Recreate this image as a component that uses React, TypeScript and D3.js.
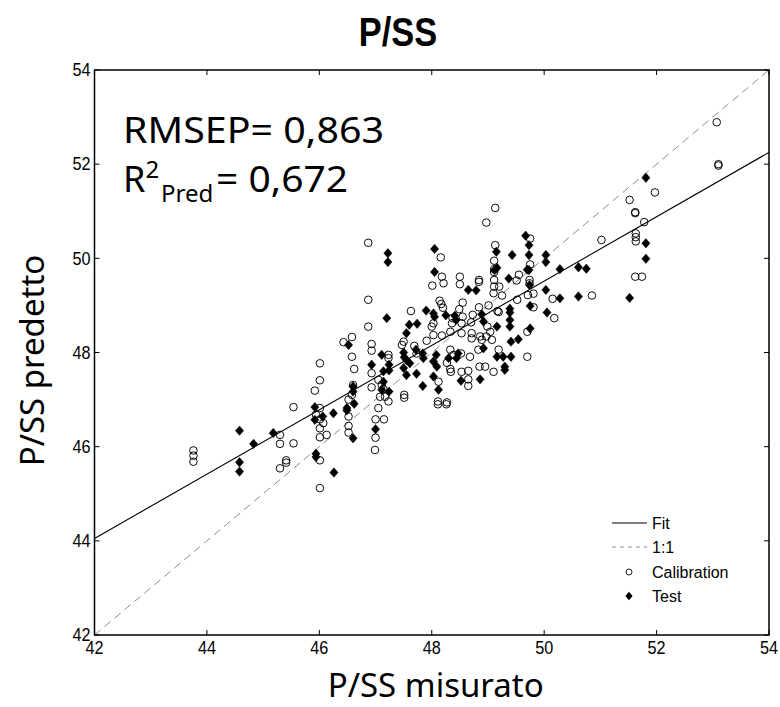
import React from "react";
import * as d3 from "d3";

const W = 780;
const H = 707;

const xDomain: [number, number] = [42, 54];
const yDomain: [number, number] = [42, 54];
const xTicks = [42, 44, 46, 48, 50, 52, 54];
const yTicks = [42, 44, 46, 48, 50, 52, 54];

const title = "P/SS";
const xLabel = "P/SS misurato";
const yLabel = "P/SS predetto";
const rmsepText = "RMSEP= 0,863";
const r2Value = "= 0,672";

const legendItems = ["Fit", "1:1", "Calibration", "Test"];

// Fit line (measured -> predicted)
const fitX = [42, 54];
const fitY = [44.05, 52.25];
const identity = [42, 54];

const calibration: [number, number][] = [
  [53.07, 52.89], [53.1, 52.0], [53.1, 51.97], [51.97, 51.4], [51.52, 51.24],
  [51.62, 50.98], [51.62, 50.96], [51.78, 50.77], [51.02, 50.39], [51.63, 50.53],
  [51.63, 50.45], [51.63, 50.36], [51.62, 49.61], [51.74, 49.61],
  [49.13, 51.07], [48.97, 50.76], [49.75, 50.42], [49.13, 50.28], [48.16, 50.02],
  [49.11, 49.95], [49.75, 49.87], [49.11, 49.77], [49.11, 49.71], [48.18, 49.61],
  [48.21, 49.47], [48.01, 49.42], [48.5, 49.61], [48.5, 49.45], [48.84, 49.54],
  [48.84, 49.5], [49.11, 49.54], [49.11, 49.4], [49.55, 49.65], [49.51, 49.53],
  [49.74, 49.54], [49.74, 49.47], [49.2, 49.4], [49.1, 49.26], [49.71, 49.22],
  [49.81, 49.25], [49.25, 49.21], [49.52, 49.12], [50.15, 49.14], [50.85, 49.21],
  [50.18, 48.73], [49.81, 48.96], [49.7, 48.44], [49.7, 47.91],
  [48.14, 49.1], [48.17, 49.03], [48.2, 48.95], [48.55, 49.06], [48.49, 48.92],
  [48.84, 48.96], [49.01, 49.0], [49.17, 48.88], [49.19, 48.86], [48.73, 48.8],
  [48.7, 48.64], [48.53, 48.62], [48.55, 48.76], [48.37, 48.73], [48.36, 48.62],
  [48.03, 48.62], [48.0, 48.55], [48.99, 48.55], [49.04, 48.44], [48.86, 48.34],
  [48.89, 48.27], [48.97, 48.34], [49.07, 48.27], [48.03, 48.37], [48.18, 48.36],
  [48.33, 48.44], [48.53, 48.41], [48.71, 48.41], [48.71, 48.3], [49.19, 48.06],
  [48.33, 48.06], [48.39, 47.95], [48.52, 47.98], [48.68, 47.91], [48.83, 48.06],
  [48.33, 47.65], [48.34, 47.59], [48.53, 47.59], [48.65, 47.61], [48.85, 47.7],
  [48.95, 47.7], [49.1, 47.59], [48.27, 47.78],
  [43.76, 45.92], [43.76, 45.81], [43.76, 45.68], [45.3, 46.25], [45.3, 46.06],
  [45.54, 46.07], [45.41, 45.71], [45.41, 45.66], [45.3, 45.54], [45.54, 46.84],
  [46.01, 47.77], [46.01, 47.41], [45.92, 47.19], [46.01, 46.82], [45.94, 46.68],
  [46.01, 46.58], [46.07, 46.5], [46.01, 46.39], [46.01, 46.2], [46.13, 46.25],
  [46.01, 45.71], [46.01, 45.12], [46.43, 48.22], [46.58, 48.33], [46.58, 47.91],
  [46.87, 48.55], [46.87, 49.12], [46.93, 48.18], [46.93, 48.04], [46.62, 47.65],
  [46.6, 47.31], [46.58, 47.1], [46.52, 47.0], [46.52, 46.64], [46.52, 46.44],
  [46.52, 46.3], [46.93, 47.56], [46.93, 47.26], [47.05, 47.42], [47.11, 47.31],
  [47.14, 47.22], [47.17, 47.06], [47.23, 47.95], [47.23, 47.88], [47.08, 47.06],
  [47.23, 46.96], [47.05, 46.82], [47.0, 46.58], [47.15, 46.58], [47.0, 46.19],
  [46.99, 45.93], [47.51, 47.1], [47.51, 47.04], [47.63, 48.88], [47.5, 48.23],
  [47.47, 48.16], [47.69, 48.14], [47.73, 47.98], [47.91, 48.25],
  [48.12, 47.38], [48.65, 47.43], [48.65, 47.29], [48.11, 46.96], [48.11, 46.9],
  [48.26, 46.9], [48.27, 46.94], [46.87, 50.33],
];

const test: [number, number][] = [
  [51.81, 51.71], [51.81, 50.32], [51.81, 49.99], [51.52, 49.16],
  [49.67, 50.48], [49.73, 50.28], [49.73, 50.07], [49.73, 49.75], [49.15, 50.14],
  [49.43, 50.07], [50.03, 50.07], [50.03, 49.92], [48.05, 50.2], [48.05, 49.71],
  [49.16, 49.8], [49.12, 49.75], [49.7, 49.76], [50.28, 49.77], [50.61, 49.81],
  [50.75, 49.78], [49.37, 49.57], [48.65, 49.33], [48.79, 49.32], [49.74, 49.43],
  [50.03, 49.33], [50.28, 49.15], [50.61, 49.19], [49.75, 48.99], [50.05, 48.85],
  [49.39, 48.93], [49.39, 48.85], [49.39, 48.69], [49.39, 48.55], [48.03, 48.83],
  [48.05, 48.76], [48.25, 48.79], [48.41, 48.78], [48.43, 48.69], [48.89, 48.81],
  [48.92, 48.66], [49.16, 48.55], [49.75, 48.51], [49.41, 48.23], [49.54, 48.28],
  [48.03, 47.81], [48.08, 47.95], [48.3, 47.88], [48.44, 47.88], [48.47, 47.98],
  [48.92, 48.09], [49.16, 47.91], [49.27, 47.91], [49.41, 47.91], [49.3, 47.7],
  [49.3, 47.63], [48.86, 47.43], [48.09, 47.7], [48.03, 47.49],
  [44.58, 46.34], [44.58, 45.67], [44.58, 45.47], [44.83, 46.06], [45.18, 46.29],
  [45.92, 46.84], [45.92, 46.57], [46.06, 46.64], [46.25, 46.71], [45.94, 45.85],
  [45.94, 45.78], [46.26, 45.45], [46.52, 48.16], [46.6, 47.28], [46.6, 47.17],
  [46.62, 46.91], [46.49, 46.82], [46.49, 46.77], [46.6, 46.18], [46.93, 47.74],
  [47.0, 46.37], [47.2, 48.73], [47.11, 47.95], [47.24, 47.74], [47.14, 47.6],
  [47.24, 47.62], [47.14, 47.38], [47.11, 47.21], [47.24, 47.17], [47.55, 48.41],
  [47.6, 48.59], [47.74, 48.61], [47.9, 48.89], [47.5, 48.0], [47.51, 47.9],
  [47.5, 47.67], [47.55, 47.84], [47.61, 47.77], [47.55, 47.52], [47.73, 47.55],
  [47.72, 48.06], [47.84, 47.98], [47.85, 47.88], [47.84, 47.29],
  [48.12, 47.21], [48.52, 47.4], [47.22, 50.11], [47.22, 49.92],
];

const PL = 94.5;
const PR = 769;
const PT = 70;
const PB = 635;

const tickFont = "'Liberation Sans', Arial, sans-serif";
const textFont = "'Noto Sans', 'Open Sans', sans-serif";

function diamondPath(cx: number, cy: number, hw: number, hh: number) {
  const p = d3.path();
  p.moveTo(cx, cy - hh);
  p.lineTo(cx + hw, cy);
  p.lineTo(cx, cy + hh);
  p.lineTo(cx - hw, cy);
  p.closePath();
  return p.toString();
}

export default function App() {
  const x = d3.scaleLinear().domain(xDomain).range([PL, PR]);
  const y = d3.scaleLinear().domain(yDomain).range([PB, PT]);
  const line = d3
    .line<[number, number]>()
    .x((d) => x(d[0]))
    .y((d) => y(d[1]));

  const fitPts: [number, number][] = fitX.map((v, i) => [v, fitY[i]]);
  const idPts: [number, number][] = identity.map((v) => [v, v]);

  const tickLen = 5;
  const lx1 = 612;
  const lx2 = 647;
  const legY = [523, 547, 572, 596];

  return (
    <div style={{ position: "absolute", left: 0, top: 0, width: W, height: H }}>
      <svg width={W} height={H} viewBox={`0 0 ${W} ${H}`} style={{ display: "block", background: "#fff" }}>
        <text
          transform="translate(398, 46) scale(0.86, 1)"
          textAnchor="middle"
          fontFamily={tickFont}
          fontWeight="bold"
          fontSize={40}
          fill="#000"
        >
          {title}
        </text>

        <defs>
          <clipPath id="plotClip">
            <rect x={PL} y={PT} width={PR - PL} height={PB - PT} />
          </clipPath>
        </defs>

        <g clipPath="url(#plotClip)">
          <path d={line(idPts) || ""} fill="none" stroke="#8c8c8c" strokeWidth={1} strokeDasharray="8,5" />
          <path d={line(fitPts) || ""} fill="none" stroke="#000" strokeWidth={1.1} />
          {test.map((d, i) => (
            <path key={"t" + i} d={diamondPath(x(d[0]), y(d[1]), 4.1, 4.7)} fill="#000" stroke="#000" strokeWidth={0.5} />
          ))}
          {calibration.map((d, i) => (
            <circle key={"c" + i} cx={x(d[0])} cy={y(d[1])} r={3.8} fill="none" stroke="#000" strokeWidth={0.95} />
          ))}
        </g>

        {/* axes box */}
        <rect x={PL} y={PT} width={PR - PL} height={PB - PT} fill="none" stroke="#000" strokeWidth={1.5} />
        {xTicks.map((t) => (
          <g key={"xt" + t}>
            <line x1={x(t)} x2={x(t)} y1={PB} y2={PB - tickLen} stroke="#000" strokeWidth={1} />
            <line x1={x(t)} x2={x(t)} y1={PT} y2={PT + tickLen} stroke="#000" strokeWidth={1} />
            <text
              transform={`translate(${x(t)}, ${PB + 19}) scale(0.9, 1)`}
              textAnchor="middle"
              fontFamily={tickFont}
              fontSize={18}
              fill="#000"
            >
              {t}
            </text>
          </g>
        ))}
        {yTicks.map((t) => (
          <g key={"yt" + t}>
            <line x1={PL} x2={PL + tickLen} y1={y(t)} y2={y(t)} stroke="#000" strokeWidth={1} />
            <line x1={PR} x2={PR - tickLen} y1={y(t)} y2={y(t)} stroke="#000" strokeWidth={1} />
            <text
              transform={`translate(${PL - 4}, ${y(t)}) scale(0.9, 1)`}
              dy="0.35em"
              textAnchor="end"
              fontFamily={tickFont}
              fontSize={18}
              fill="#000"
            >
              {t}
            </text>
          </g>
        ))}

        {/* axis labels */}
        <text x={(PL + PR) / 2 + 4} y={697} textAnchor="middle" fontFamily={textFont} fontSize={33} fill="#000">
          {xLabel}
        </text>
        <text
          transform={`translate(44, ${(PT + PB) / 2 + 8}) rotate(-90)`}
          textAnchor="middle"
          fontFamily={textFont}
          fontSize={33}
          fill="#000"
        >
          {yLabel}
        </text>

        {/* stats annotation */}
        <text x={123} y={143} fontFamily={textFont} fontSize={36} fill="#000" textLength={261} lengthAdjust="spacingAndGlyphs">
          {rmsepText}
        </text>
        <text x={123} y={192} fontFamily={textFont} fontSize={36} fill="#000">
          R
          <tspan fontSize={24} dy={-14}>2</tspan>
          <tspan fontSize={24} dy={24} x={161}>Pred</tspan>
          <tspan fontSize={36} dy={-10} x={216} textLength={132} lengthAdjust="spacingAndGlyphs">{r2Value}</tspan>
        </text>

        {/* legend */}
        <line x1={lx1} x2={lx2} y1={legY[0]} y2={legY[0]} stroke="#000" strokeWidth={1.1} />
        <line x1={lx1} x2={lx2} y1={legY[1]} y2={legY[1]} stroke="#8c8c8c" strokeWidth={1} strokeDasharray="4,4" />
        <circle cx={(lx1 + lx2) / 2 - 0.5} cy={legY[2]} r={3} fill="none" stroke="#000" strokeWidth={0.9} />
        <path d={diamondPath((lx1 + lx2) / 2 - 0.5, legY[3], 3.6, 4.2)} fill="#000" />
        {legendItems.map((s, i) => (
          <text key={s} x={652} y={legY[i]} dy="0.36em" fontFamily={tickFont} fontSize={16} fill="#000">
            {s}
          </text>
        ))}
      </svg>
    </div>
  );
}
